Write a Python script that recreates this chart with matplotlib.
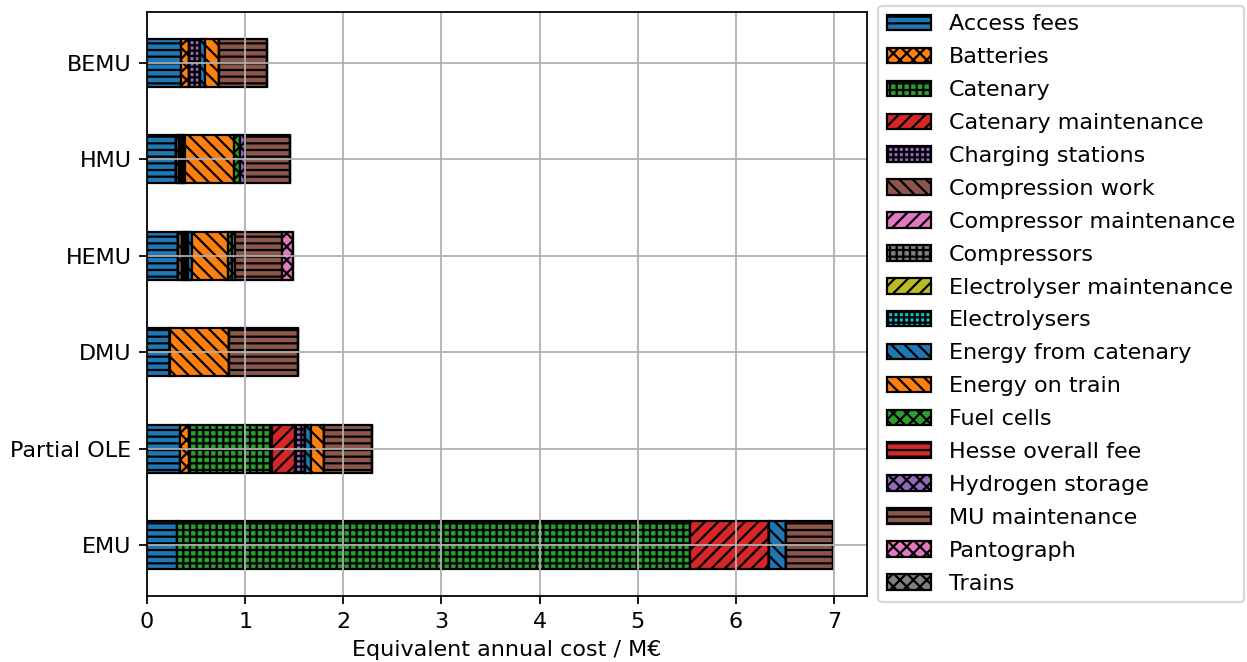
import matplotlib.pyplot as plt
import numpy as np

trains = ["EMU", "Partial OLE", "DMU", "HEMU", "HMU", "BEMU"]

# cost items, values in M€ per year for each train (same order as trains)
access_fees = [0.31, 0.336, 0.235, 0.32, 0.30, 0.345]
batteries = [0, 0.09, 0, 0, 0, 0.085]
catenary = [5.22, 0.85, 0, 0, 0, 0]
catenary_maintenance = [0.81, 0.23, 0, 0, 0, 0]
charging_stations = [0, 0.10, 0, 0, 0, 0.11]
compression_work = [0, 0, 0, 0.035, 0.03, 0]
compressor_maintenance = [0, 0, 0, 0.01, 0.01, 0]
compressors = [0, 0, 0, 0.02, 0.02, 0]
electrolyser_maintenance = [0, 0, 0, 0.01, 0.01, 0]
electrolysers = [0, 0, 0, 0.02, 0.02, 0]
energy_from_catenary = [0.17, 0.06, 0, 0.04, 0, 0.05]
energy_on_train = [0, 0.14, 0.60, 0.373, 0.493, 0.14]
fuel_cells = [0, 0, 0, 0.038, 0.064, 0]
hesse_overall_fee = [0, 0, 0, 0, 0, 0]
hydrogen_storage = [0, 0, 0, 0.03, 0.05, 0]
mu_maintenance = [0.48, 0.49, 0.70, 0.477, 0.463, 0.49]
pantograph = [0, 0, 0, 0.11, 0, 0]
trains_cost = [0, 0, 0, 0, 0, 0]

items = [
    ("Access fees", access_fees, "----"),
    ("Batteries", batteries, "xxxx"),
    ("Catenary", catenary, "++++"),
    ("Catenary maintenance", catenary_maintenance, "////"),
    ("Charging stations", charging_stations, "+++++"),
    ("Compression work", compression_work, "\\\\\\\\"),
    ("Compressor maintenance", compressor_maintenance, "////"),
    ("Compressors", compressors, "++++"),
    ("Electrolyser maintenance", electrolyser_maintenance, "////"),
    ("Electrolysers", electrolysers, "+++++"),
    ("Energy from catenary", energy_from_catenary, "\\\\\\\\"),
    ("Energy on train", energy_on_train, "\\\\\\\\"),
    ("Fuel cells", fuel_cells, "xxxx"),
    ("Hesse overall fee", hesse_overall_fee, "----"),
    ("Hydrogen storage", hydrogen_storage, "xxxx"),
    ("MU maintenance", mu_maintenance, "----"),
    ("Pantograph", pantograph, "xxxx"),
    ("Trains", trains_cost, "xxxx"),
]

dpi = 160
fig = plt.figure(figsize=(1247 / dpi, 662 / dpi), dpi=dpi)
ax = fig.add_axes([147 / 1247, 66 / 662, 720 / 1247, 584 / 662])

y = np.arange(len(trains))
left = np.zeros(len(trains))
for i, (name, vals, hatch) in enumerate(items):
    vals = np.array(vals, dtype=float)
    ax.barh(y, vals, height=0.5, left=left, color="C%d" % (i % 10),
            edgecolor="black", hatch=hatch, label=name)
    left += vals

ax.set_xlim(0, 7.335)
ax.set_yticks(y)
ax.set_yticklabels(trains)
ax.set_xlabel("Equivalent annual cost / M€")
ax.grid(True)
ax.legend(loc="center left", bbox_to_anchor=(1.0, 0.5), labelspacing=0.58)

fig.savefig("out.png", dpi=dpi)
